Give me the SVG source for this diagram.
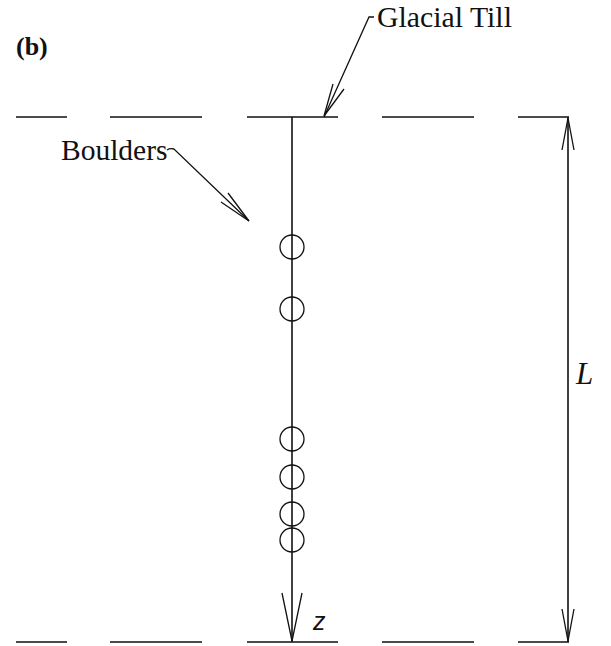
<svg xmlns="http://www.w3.org/2000/svg" width="611" height="646" viewBox="0 0 611 646">
<style>
.ln{stroke:#111;stroke-width:1.6;fill:none}
.thin{stroke:#111;stroke-width:1.3;fill:none}
.c{stroke:#111;stroke-width:1.3;fill:none}
.t{font-family:"Liberation Serif","Times New Roman",serif;fill:#111}
</style>
<rect width="611" height="646" fill="#fff"/>
<g id="label-b"><text class="t" x="16" y="55" font-size="26" font-weight="bold">(b)</text></g>
<g id="top-boundary">
<path class="ln" d="M16 117H67M110 117H202M247 117H338M382 117H474M518 117H569"/>
</g>
<g id="bottom-boundary">
<path class="ln" d="M16 642H67M110 642H202M247 642H338M382 642H474M518 642H569"/>
</g>
<g id="glacial-till">
<text class="t" x="377" y="27" font-size="29.8">Glacial Till</text>
</g>
<g id="boulders-label">
<text class="t" x="61" y="160" font-size="29.5">Boulders</text>
</g>
<g id="boulders">
<circle class="c" cx="292" cy="247" r="12"/>
<circle class="c" cx="292" cy="309" r="12"/>
<circle class="c" cx="292" cy="439" r="12"/>
<circle class="c" cx="292" cy="477" r="12"/>
<circle class="c" cx="292" cy="514" r="12"/>
<circle class="c" cx="292" cy="540" r="12"/>
</g>
<g id="z-label"><text x="313" y="630" font-size="25" font-style="italic" font-family="'Liberation Sans',Arial,sans-serif" fill="#111">z</text></g>
<g id="L-label"><text class="t" x="576" y="384" font-size="31" font-style="italic">L</text></g>
<g id="connectors">
<path class="ln" d="M292 117V642"/>
<path class="thin" d="M282 593L292 641L302 593"/>
<path class="ln" d="M568 117V642"/>
<path class="thin" d="M562 150L568 118L574 150M562 609L568 641L574 609"/>
<path class="thin" d="M374 17H369L324 117"/>
<path class="thin" d="M333 84L324 116L344 89"/>
<path class="thin" d="M167 150Q170 148 174 149L249 221"/>
<path class="thin" d="M221 202L249 221L228 193"/>
</g>
</svg>
